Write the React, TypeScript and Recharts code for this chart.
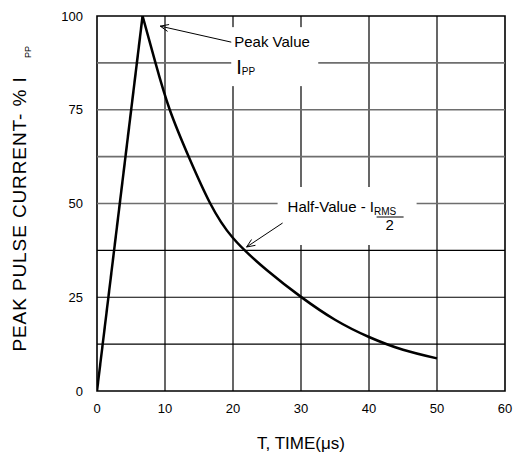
import React from "react";
import {
  Label,
  Line,
  LineChart,
  ReferenceArea,
  ReferenceDot,
  ReferenceLine,
  XAxis,
  YAxis,
} from "recharts";

// pulse waveform
const riseT = [0, 6.7];
const riseV = [0, 100];
const decayT = [6.7, 8.6, 10.7, 13.6, 16.6, 20, 25, 30, 35, 40, 45, 50];
const decayV = [100, 87.5, 75, 62, 50.2, 40.8, 32.2, 25.1, 19.0, 14.4, 11.0, 8.7];

const xTicks = [0, 10, 20, 30, 40, 50, 60];
const yTicks = [0, 25, 50, 75, 100];
const gridX = [10, 20, 30, 40, 50];
const gridYGray = [50, 62.5, 75, 87.5];
const gridYBlack = [12.5, 25, 37.5];

const rise = riseT.map((t, i) => ({ t, v: riseV[i] }));
const decay = decayT.map((t, i) => ({ t, v: decayV[i] }));

const FONT = "Liberation Sans, Arial, sans-serif";

function Arrow({ x1, y1, x2, y2 }: { x1: number; y1: number; x2: number; y2: number }) {
  const a = Math.atan2(y1 - y2, x1 - x2);
  const len = 9;
  const spread = 0.4;
  const p1 = [x2 + len * Math.cos(a + spread), y2 + len * Math.sin(a + spread)];
  const p2 = [x2 + len * Math.cos(a - spread), y2 + len * Math.sin(a - spread)];
  return (
    <g stroke="#000" strokeWidth={1} fill="none">
      <line x1={x1} y1={y1} x2={x2} y2={y2} />
      <polyline points={`${p1[0]},${p1[1]} ${x2},${y2} ${p2[0]},${p2[1]}`} />
    </g>
  );
}

function PeakNote(props: any) {
  const { cx, cy } = props;
  return (
    <g fontFamily={FONT}>
      <rect x={cx + 71} y={cy + 1} width={87} height={59} fill="#fff" />
      <Arrow x1={cx + 71} y1={cy + 16} x2={cx} y2={cy} />
      <text x={cx + 74} y={cy + 21} fontSize={15} fill="#000">
        Peak Value
      </text>
      <text x={cx + 76} y={cy + 48} fontSize={20} fill="#000">
        I
        <tspan fontSize={10} dy={1}>
          PP
        </tspan>
      </text>
    </g>
  );
}

function HalfNote(props: any) {
  const { cx, cy } = props;
  return (
    <g fontFamily={FONT}>
      <rect x={cx + 31} y={cy - 60} width={139} height={58} fill="#fff" />
      <Arrow x1={cx + 36} y1={cy - 24} x2={cx} y2={cy} />
      <text x={cx + 41} y={cy - 35} fontSize={15} fill="#000">
        Half-Value - I
        <tspan fontSize={10} dy={3}>
          RMS
        </tspan>
      </text>
      <line x1={cx + 130} y1={cy - 30} x2={cx + 157} y2={cy - 30} stroke="#000" strokeWidth={1} />
      <text x={cx + 143} y={cy - 17} fontSize={15} fill="#000" textAnchor="middle">
        2
      </text>
    </g>
  );
}

function YTitle(props: any) {
  const { viewBox } = props;
  const bx = viewBox.x + 26;
  const cy = viewBox.y + 198;
  const px = viewBox.x + 31;
  const py = viewBox.y + 36;
  return (
    <g fontFamily={FONT} fill="#000">
      <text
        x={bx}
        y={cy}
        transform={`rotate(-90, ${bx}, ${cy})`}
        textAnchor="middle"
        fontSize={19}
        letterSpacing={0.9}
      >
        PEAK PULSE CURRENT- % I
      </text>
      <text x={px} y={py} transform={`rotate(-90, ${px}, ${py})`} textAnchor="middle" fontSize={9}>
        PP
      </text>
    </g>
  );
}

export default function App() {
  return (
    <div style={{ position: "absolute", left: 0, top: 0, background: "#fff" }}>
      <LineChart width={515} height={456} margin={{ top: 16, right: 10, bottom: 0, left: 0 }}>
        <XAxis
          type="number"
          dataKey="t"
          domain={[0, 60]}
          ticks={xTicks}
          height={65}
          axisLine={false}
          tickLine={false}
          tickSize={0}
          tickMargin={13}
          tick={{ fill: "#000", fontSize: 13, fontFamily: FONT }}
          allowDataOverflow
        >
          <Label
            value="T, TIME(μs)"
            position="insideBottom"
            offset={7}
            style={{ fill: "#000", fontSize: 17, fontFamily: FONT }}
          />
        </XAxis>
        <YAxis
          type="number"
          dataKey="v"
          domain={[0, 100]}
          ticks={yTicks}
          width={97}
          axisLine={false}
          tickLine={false}
          tickSize={0}
          tickMargin={14}
          tick={{ fill: "#000", fontSize: 13, fontFamily: FONT }}
          allowDataOverflow
        >
          <Label content={YTitle} />
        </YAxis>
        {gridX.map((x) => (
          <ReferenceLine key={`x${x}`} x={x} stroke="#000" strokeWidth={1.2} />
        ))}
        {gridYGray.map((y) => (
          <ReferenceLine key={`g${y}`} y={y} stroke="#6e6e6e" strokeWidth={1.6} />
        ))}
        {gridYBlack.map((y) => (
          <ReferenceLine key={`b${y}`} y={y} stroke="#000" strokeWidth={1.2} />
        ))}
        <ReferenceDot x={9.3} y={97.3} r={0} shape={PeakNote} />
        <ReferenceDot x={22} y={38.4} r={0} shape={HalfNote} />
        <ReferenceArea x1={0} x2={60} y1={0} y2={100} fill="none" stroke="#000" strokeWidth={1.6} />
        <Line
          data={rise}
          dataKey="v"
          type="linear"
          stroke="#000"
          strokeWidth={2.5}
          dot={false}
          isAnimationActive={false}
        />
        <Line
          data={decay}
          dataKey="v"
          type="natural"
          stroke="#000"
          strokeWidth={2.5}
          dot={false}
          isAnimationActive={false}
        />
      </LineChart>
    </div>
  );
}
